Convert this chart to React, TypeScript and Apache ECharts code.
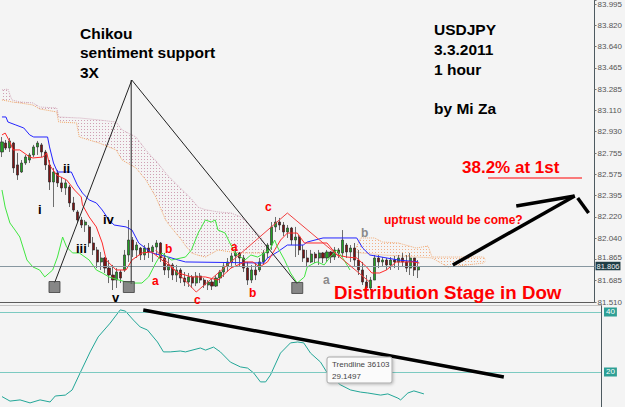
import React, { useEffect, useRef } from "react";
import * as echarts from "echarts";

// ---------- data (bar slots are 1 hour each; prices in JPY per USD) ----------
const SLOT_COUNT = 150;
const PRICE_MIN = 81.51;
const PRICE_MAX = 84.028;
const TICK_STEP = 0.1775;
const TICK_LABELS = [
  "81.510", "81.685", "81.865", "82.040", "82.220", "82.395", "82.575", "82.755",
  "82.930", "83.110", "83.285", "83.465", "83.640", "83.820", "83.995",
];
const LAST_PRICE = 81.806;

// [open, close, low, high]
const CANDLES: number[][] = [
  [82.761, 82.845, 82.719, 82.886], [82.836, 82.794, 82.778, 82.861], [82.794, 82.853, 82.761, 82.878],
  [82.836, 82.628, 82.586, 82.845], [82.653, 82.569, 82.528, 82.753], [82.594, 82.669, 82.586, 82.694],
  [82.669, 82.719, 82.653, 82.736], [82.694, 82.736, 82.669, 82.753], [82.736, 82.803, 82.719, 82.82],
  [82.803, 82.836, 82.736, 82.853], [82.82, 82.761, 82.719, 82.836], [82.761, 82.653, 82.611, 82.778],
  [82.653, 82.511, 82.444, 82.694], [82.511, 82.594, 82.302, 82.628], [82.586, 82.503, 82.469, 82.611],
  [82.503, 82.461, 82.427, 82.553], [82.461, 82.503, 82.403, 82.528], [82.469, 82.336, 82.302, 82.486],
  [82.336, 82.277, 82.261, 82.386], [82.261, 82.194, 82.169, 82.277], [82.194, 82.152, 82.127, 82.219],
  [82.152, 82.177, 82.094, 82.194], [82.136, 82.002, 81.969, 82.152], [82.002, 81.944, 81.902, 82.052],
  [81.944, 81.844, 81.793, 81.969], [81.844, 81.877, 81.777, 81.927], [81.877, 81.793, 81.752, 81.885],
  [81.793, 81.735, 81.668, 81.86], [81.735, 81.693, 81.61, 81.819], [81.693, 81.76, 81.627, 81.793],
  [81.76, 81.71, 81.668, 81.777], [81.777, 81.902, 81.76, 81.944], [81.902, 82.027, 81.844, 82.194],
  [82.027, 81.944, 81.885, 82.052], [81.944, 81.985, 81.877, 82.01], [81.96, 81.902, 81.86, 81.969],
  [81.902, 81.96, 81.86, 81.985], [81.96, 81.927, 81.877, 82.002], [81.927, 81.969, 81.844, 81.985],
  [81.969, 82.002, 81.902, 82.027], [82.002, 81.877, 81.844, 82.01], [81.877, 81.777, 81.735, 81.919],
  [81.777, 81.819, 81.71, 81.877], [81.819, 81.735, 81.693, 81.835], [81.735, 81.777, 81.677, 81.819],
  [81.777, 81.71, 81.668, 81.793], [81.71, 81.677, 81.643, 81.76], [81.677, 81.719, 81.635, 81.752],
  [81.719, 81.668, 81.627, 81.735], [81.668, 81.727, 81.643, 81.76], [81.727, 81.693, 81.668, 81.752],
  [81.693, 81.652, 81.627, 81.71], [81.652, 81.677, 81.61, 81.693], [81.677, 81.643, 81.61, 81.702],
  [81.643, 81.71, 81.635, 81.735], [81.71, 81.76, 81.668, 81.777], [81.76, 81.81, 81.719, 81.835],
  [81.81, 81.844, 81.76, 81.877], [81.844, 81.894, 81.793, 81.919], [81.894, 81.919, 81.819, 81.944],
  [81.919, 81.877, 81.802, 81.927], [81.877, 81.793, 81.76, 81.902], [81.793, 81.693, 81.652, 81.844],
  [81.693, 81.777, 81.668, 81.819], [81.777, 81.735, 81.693, 81.835], [81.777, 81.844, 81.76, 81.877],
  [81.844, 81.919, 81.819, 81.944], [81.919, 81.985, 81.877, 82.002], [81.985, 82.136, 81.944, 82.177],
  [82.136, 82.177, 82.094, 82.219], [82.177, 82.152, 82.11, 82.211], [82.152, 82.094, 82.06, 82.177],
  [82.094, 82.127, 82.044, 82.152], [82.127, 82.027, 81.985, 82.136], [82.027, 82.052, 81.885, 82.136],
  [82.052, 81.944, 81.902, 82.069], [81.944, 81.877, 81.844, 81.985], [81.877, 81.844, 81.802, 81.944],
  [81.844, 81.91, 81.835, 81.944], [81.91, 81.877, 81.835, 81.927], [81.877, 81.919, 81.819, 81.944],
  [81.919, 81.877, 81.835, 81.927], [81.877, 81.927, 81.844, 81.944], [81.927, 81.885, 81.835, 81.935],
  [81.885, 81.944, 81.86, 81.969], [81.944, 81.919, 81.877, 81.96], [81.919, 82.027, 81.885, 82.11],
  [81.985, 81.927, 81.877, 82.002], [81.927, 81.96, 81.844, 81.985], [81.96, 81.86, 81.802, 82.002],
  [81.86, 81.777, 81.735, 81.944], [81.777, 81.677, 81.652, 81.844], [81.677, 81.627, 81.593, 81.735],
  [81.627, 81.693, 81.61, 81.719], [81.693, 81.877, 81.693, 81.902], [81.877, 81.844, 81.793, 81.902],
  [81.844, 81.86, 81.802, 81.885], [81.86, 81.819, 81.777, 81.877], [81.819, 81.86, 81.777, 81.885],
  [81.86, 81.844, 81.793, 81.894], [81.844, 81.877, 81.777, 81.902], [81.877, 81.844, 81.81, 81.919],
  [81.844, 81.793, 81.76, 81.902], [81.793, 81.877, 81.735, 81.919], [81.877, 81.777, 81.727, 81.877],
  [81.777, 81.806, 81.71, 81.86],
];

// Ichimoku lines: [bar slot, price]
const KIJUN: number[][] = [
  [0, 83.053], [1, 83.053], [1.5, 83.011], [3.5, 82.986], [5.5, 82.961], [7, 82.903], [8, 82.886],
  [11.5, 82.886], [12, 82.803], [13, 82.669], [14, 82.594], [17.5, 82.594], [19, 82.486], [20.3, 82.419],
  [22, 82.361], [23.8, 82.336], [25.3, 82.277], [27, 82.194], [28.3, 82.152], [31.3, 82.136], [32.8, 82.11],
  [34.5, 82.002], [37.8, 81.919], [42, 81.885], [44.5, 81.86], [46.3, 81.844], [66, 81.835], [67, 81.877],
  [69.5, 81.927], [72, 81.985], [76, 81.985], [77, 82.01], [81, 82.044], [89.5, 82.044], [91, 81.96],
  [92.8, 81.902], [100, 81.86], [105, 81.844],
];
const TENKAN: number[][] = [
  [0, 82.903], [0.8, 82.919], [2, 82.845], [2.8, 82.778], [4.5, 82.778], [7, 82.719], [7.8, 82.711],
  [10.3, 82.719], [11.3, 82.753], [12, 82.653], [13.8, 82.569], [16.3, 82.528], [18.3, 82.444],
  [20, 82.386], [20.3, 82.32], [22, 82.219], [23.8, 82.136], [25.3, 82.002], [26.3, 81.86], [28.8, 81.777],
  [31.3, 81.777], [32.8, 81.86], [35.3, 81.919], [37.8, 81.927], [41.3, 81.835], [44.5, 81.752],
  [47.8, 81.719], [51.3, 81.719], [54.5, 81.693], [57.8, 81.794], [61.3, 81.844], [63.3, 81.844],
  [65, 81.802], [67, 81.844], [68.8, 81.944], [70.3, 82.027], [72, 82.085], [74.5, 82.085], [76.3, 82.002],
  [82, 82.002], [84.5, 81.902], [87, 81.885], [89.5, 81.877], [92, 81.802], [93.3, 81.752], [95.3, 81.752],
  [97, 81.777], [99.5, 81.844], [103.8, 81.844], [105.3, 81.835],
];
const CHIKOU: number[][] = [
  [0, 82.444], [0.8, 82.302], [2, 82.169], [3.3, 82.11], [4.5, 82.052], [6.3, 81.86], [7.8, 81.802],
  [9.5, 81.777], [10.8, 81.719], [12.8, 81.777], [14, 81.885], [15.3, 82.052], [16.3, 81.969],
  [17.8, 81.919], [19.5, 81.919], [22, 81.86], [23.8, 81.777], [25.3, 81.752], [27, 81.719], [29.5, 81.693],
  [31.3, 81.677], [32.8, 81.668], [35.3, 81.668], [37, 81.719], [38.8, 81.835], [40.3, 81.919],
  [42.8, 81.86], [46.3, 81.885], [47.8, 81.944], [49.5, 82.085], [51.3, 82.194], [52.8, 82.177],
  [53.8, 82.194], [54.5, 82.11], [56.3, 82.085], [57.5, 82.002], [58.8, 81.919], [61.3, 81.86],
  [62.8, 81.902], [64.5, 81.885], [66.3, 81.919], [67.5, 81.944], [68.8, 82.027], [69.5, 81.969],
  [71.3, 81.86], [72.8, 81.752], [74.5, 81.668], [76.3, 81.719], [77, 81.802], [78.8, 81.835],
  [79.5, 81.844], [81.3, 81.819], [82.8, 81.885], [84.5, 81.944], [86.3, 81.86], [87.8, 81.777],
];

// Kumo (cloud) edges
const CLOUD1_SLOT = [0, 1.5, 2.5, 4.5, 7.8, 9.5, 13.8, 14.3, 18.8, 19.5, 24.5, 28.8, 30.3, 33.8, 36.3, 37.8, 38.8, 41.3, 42, 45.3, 46.3, 47.8, 49.5, 51.3, 54.5, 57.8, 60.3, 62, 65.3, 67];
const CLOUD1_TOP = [83.278, 83.286, 83.195, 83.178, 83.17, 83.136, 83.128, 83.053, 83.045, 83.045, 83.028, 83.011, 82.945, 82.886, 82.778, 82.72, 82.69, 82.586, 82.56, 82.45, 82.419, 82.37, 82.3, 82.28, 82.261, 82.252, 82.219, 82.17, 82.052, 81.95];
const CLOUD1_BOTTOM = [83.195, 83.186, 83.178, 83.17, 83.153, 83.12, 83.095, 83.011, 83.003, 82.886, 82.836, 82.778, 82.694, 82.628, 82.528, 82.444, 82.386, 82.194, 82.16, 82.027, 81.98, 81.919, 81.9, 81.885, 81.944, 81.927, 81.92, 81.919, 81.919, 81.94];
const CLOUD2_SLOT = [89, 90.5, 94, 96, 100, 104.5, 107.5, 108.5, 112.5, 115, 121.5, 122];
const CLOUD2_TOP = [81.94, 82.044, 82.044, 82.01, 82.002, 81.96, 81.977, 81.885, 81.885, 81.885, 81.885, 81.86];
const CLOUD2_BOTTOM = [81.93, 81.919, 81.91, 81.902, 81.894, 81.885, 81.88, 81.877, 81.802, 81.81, 81.835, 81.85];

// lower indicator panel: [bar slot, value]
const ADX: number[][] = [
  [0, 11.8], [2, 10.3], [4.5, 10.7], [7, 9.7], [9.5, 10.7], [12, 10.0], [13.3, 12.0], [15.8, 12.3],
  [17.5, 14.0], [19.5, 19.7], [22, 26.7], [24, 31.7], [27, 36.3], [29.5, 40.7], [30.8, 40.3], [32.8, 37.3],
  [34.5, 35.0], [36.3, 34.0], [38.8, 30.0], [40.3, 26.7], [42, 26.7], [44.5, 27.0], [45.8, 26.7],
  [49.5, 28.0], [50.8, 27.3], [52.8, 28.3], [54.5, 26.7], [57, 23.3], [59.5, 21.7], [61.3, 21.3],
  [62.8, 19.7], [64.5, 16.7], [65.8, 16.7], [67, 19.0], [69.5, 26.3], [72, 29.7], [73.8, 30.0], [75.3, 29.7],
  [77, 26.3], [79.5, 23.3], [81.5, 19.0], [84.5, 15.7], [87, 14.0], [89.5, 13.3], [91.3, 13.0], [94.5, 12.3],
  [96.3, 12.7], [98.8, 11.3], [99.5, 10.7], [101.3, 13.0], [102.8, 13.7], [105.3, 12.7],
];
const ADX_LEVELS = [40, 20];
const ADX_MIN = 8.333;
const ADX_MAX = 42.333;

// hand-drawn annotations, in [bar slot, price] / [bar slot, value]
const CHIKOU_TRIANGLE = [[13.25, 81.668], [32.75, 83.361], [74.5, 81.66]];
const CHIKOU_DROP = [[32.6, 83.361], [32.6, 81.66]];
const SUPPORT_MARKS = [[13.25, 81.635], [32, 81.635], [74.5, 81.627]];
const WAVE_ABC = [[38.75, 81.944], [49, 81.593], [72, 82.252], [92.75, 81.677]];
const TARGET_LINE = [[113.75, 81.819], [144.5, 82.394]];
const TARGET_HEAD = [[129.75, 82.31], [144.5, 82.394]];
const TARGET_TURN = [[145.25, 82.377], [148, 82.252]];
const ADX_TRENDLINE = [[35.25, 40.67], [125.25, 18.33]];

const CATEGORIES = Array.from({ length: SLOT_COUNT }, (_, i) => String(i));

const FONT = '"Liberation Sans", Arial, sans-serif';

function dots(color: string) {
  const c = document.createElement("canvas");
  c.width = 3;
  c.height = 3;
  const ctx = c.getContext("2d");
  if (ctx) {
    ctx.fillStyle = color;
    ctx.fillRect(0, 0, 1, 1);
  }
  return { image: c, repeat: "repeat" };
}

export default function App() {
  const ref = useRef<HTMLDivElement>(null);
  useEffect(() => {
    if (!ref.current) return;
    const chart = echarts.init(ref.current, null, { renderer: "svg" });

    const plain = { show: false };
    const line = (data: number[][], color: string, extra: any = {}) => ({
      type: "line",
      xAxisIndex: 1,
      yAxisIndex: 0,
      data,
      symbol: "none",
      silent: true,
      lineStyle: { color, width: 1 },
      z: 4,
      ...extra,
    });
    const edge = (slots: number[], vals: number[], color: string) =>
      line(slots.map((s, i) => [s, vals[i]]), color, { z: 2, lineStyle: { color, width: 1, type: "dotted" } });

    const KUMO = [
      { slot: CLOUD1_SLOT, top: CLOUD1_TOP, bottom: CLOUD1_BOTTOM, fill: dots("#cf9fb3") },
      { slot: CLOUD2_SLOT, top: CLOUD2_TOP, bottom: CLOUD2_BOTTOM, fill: dots("#f2b088") },
    ];

    const label = (text: string, x: number, y: number, size: number, color: string) => ({
      type: "text",
      x,
      y,
      z: 100,
      style: { text, fill: color, font: `bold ${size}px ${FONT}`, align: "left", verticalAlign: "middle" },
    });

    // index of the tick label that sits right above the last-price box
    const nearLast = Math.round((LAST_PRICE - PRICE_MIN) / TICK_STEP + 0.5);

    const option: any = {
      animation: false,
      backgroundColor: "#f4f4f4",
      grid: [
        { left: 0, right: 24, top: 0, height: 302 },
        { left: 0, right: 24, top: 305, height: 102 },
      ],
      xAxis: [
        { type: "category", gridIndex: 0, data: CATEGORIES, boundaryGap: true, show: false },
        {
          type: "value", gridIndex: 0, min: -0.5, max: SLOT_COUNT - 0.5, position: "bottom",
          axisLine: { show: true, onZero: false, lineStyle: { color: "#5c5c5c" } },
          axisTick: plain, axisLabel: plain, splitLine: plain,
        },
        {
          type: "value", gridIndex: 1, min: -0.5, max: SLOT_COUNT - 0.5, position: "top",
          axisLine: { show: true, onZero: false, lineStyle: { color: "#c6c6c6" } },
          axisTick: plain, axisLabel: plain, splitLine: plain,
        },
      ],
      yAxis: [
        {
          type: "value", gridIndex: 0, min: PRICE_MIN, max: PRICE_MAX, position: "right",
          axisLine: { show: true, onZero: false, lineStyle: { color: "#4d5a60" } },
          axisTick: plain, axisLabel: plain, splitLine: plain,
        },
        {
          type: "value", gridIndex: 0, min: 0, max: PRICE_MAX - PRICE_MIN, interval: TICK_STEP, position: "right",
          axisLine: { show: false, onZero: false },
          axisTick: { show: true, length: 2, lineStyle: { color: "#777" } },
          axisLabel: {
            fontSize: 8, lineHeight: 7, color: "#555", margin: 3, fontFamily: FONT,
            formatter: (v: number) => {
              const i = Math.round(v / TICK_STEP);
              if (Math.abs(v - i * TICK_STEP) >= 0.005 || !TICK_LABELS[i]) return "";
              return i === nearLast ? `{near|${TICK_LABELS[i]}}` : TICK_LABELS[i];
            },
            rich: {
              near: { fontSize: 8, lineHeight: 7, color: "#555", fontFamily: FONT, padding: [0, 0, 3, 0] },
            },
          },
          splitLine: plain,
        },
        {
          type: "value", gridIndex: 1, min: ADX_MIN, max: ADX_MAX, position: "right",
          axisLine: { show: true, onZero: false, lineStyle: { color: "#4d5a60" } },
          axisTick: plain, axisLabel: plain, splitLine: plain,
        },
      ],
      series: [
        {
          type: "custom",
          xAxisIndex: 1,
          yAxisIndex: 0,
          silent: true,
          z: 1,
          data: KUMO.map((k) => [k.slot[0], k.top[0]]),
          encode: { x: 0, y: 1 },
          renderItem: (params: any, api: any) => {
            const k = KUMO[params.dataIndex];
            const pts: number[][] = [];
            k.slot.forEach((s, i) => pts.push(api.coord([s, k.top[i]])));
            for (let i = k.slot.length - 1; i >= 0; i--) pts.push(api.coord([k.slot[i], k.bottom[i]]));
            return { type: "polygon", shape: { points: pts }, style: { fill: k.fill, stroke: "none" } };
          },
        },
        edge(CLOUD1_SLOT, CLOUD1_TOP, "#d3a9bb"),
        edge(CLOUD1_SLOT, CLOUD1_BOTTOM, "#f2a766"),
        edge(CLOUD2_SLOT, CLOUD2_TOP, "#f2ae7a"),
        edge(CLOUD2_SLOT, CLOUD2_BOTTOM, "#f2ae7a"),
        {
          type: "candlestick",
          xAxisIndex: 0,
          yAxisIndex: 0,
          data: CANDLES,
          barWidth: 2.6,
          silent: true,
          z: 3,
          itemStyle: {
            color: "#22a022",
            color0: "#7c1414",
            borderColor: "#333333",
            borderColor0: "#2a2a2a",
            borderWidth: 0.7,
          },
          markLine: {
            silent: true,
            symbol: "none",
            data: [{ yAxis: LAST_PRICE }],
            lineStyle: { color: "#8797a0", width: 1, type: "solid" },
            label: {
              position: "end",
              distance: 1,
              formatter: LAST_PRICE.toFixed(3),
              fontSize: 7.5,
              lineHeight: 7.5,
              fontFamily: FONT,
              color: "#f2f2f2",
              backgroundColor: "#1f3d46",
              padding: [1, 1, 0, 1],
            },
          },
        },
        line(KIJUN, "#2424ff"),
        line(TENKAN, "#ff2a2a"),
        line(CHIKOU, "#40e640"),
        line(CHIKOU_TRIANGLE, "#222222", { z: 6 }),
        line(CHIKOU_DROP, "#222222", { z: 6 }),
        line(WAVE_ABC, "#f04040", { z: 6 }),
        line(TARGET_LINE, "#000000", { z: 7, lineStyle: { color: "#000", width: 3.5 } }),
        line(TARGET_HEAD, "#000000", { z: 7, lineStyle: { color: "#000", width: 3.5 } }),
        line(TARGET_TURN, "#000000", { z: 7, lineStyle: { color: "#000", width: 3.5 } }),
        {
          type: "scatter",
          xAxisIndex: 1,
          yAxisIndex: 0,
          data: SUPPORT_MARKS,
          symbol: "rect",
          symbolSize: 11,
          silent: true,
          z: 7,
          itemStyle: { color: "#6b6b6b", borderColor: "#3f3f3f", borderWidth: 1 },
        },
        {
          type: "line",
          xAxisIndex: 2,
          yAxisIndex: 2,
          data: ADX,
          symbol: "none",
          silent: true,
          lineStyle: { color: "#22a697", width: 1 },
          z: 4,
          markLine: {
            silent: true,
            symbol: "none",
            data: ADX_LEVELS.map((v) => ({ yAxis: v })),
            lineStyle: { color: "#7ccac1", width: 1, type: "solid" },
            label: {
              position: "end",
              distance: 3,
              formatter: (p: any) => String(p.value),
              fontSize: 8,
              fontFamily: FONT,
              color: "#ffffff",
              backgroundColor: "#2e9f95",
              padding: [1, 2, 0, 2],
            },
          },
        },
        {
          type: "line",
          xAxisIndex: 2,
          yAxisIndex: 2,
          data: ADX_TRENDLINE,
          symbol: "none",
          silent: true,
          lineStyle: { color: "#000", width: 3.5 },
          z: 6,
        },
      ],
      graphic: [
        label("Chikou", 80, 33, 15.5, "#000"),
        label("sentiment support", 80, 52.5, 15.5, "#000"),
        label("3X", 80, 72, 15.5, "#000"),
        label("USDJPY", 434, 29, 15.5, "#000"),
        label("3.3.2011", 434, 49, 15.5, "#000"),
        label("1 hour", 434, 69, 15.5, "#000"),
        label("by Mi Za", 434, 108, 15.5, "#000"),
        label("38.2% at 1st", 462, 167, 17, "#ff0000"),
        {
          type: "line",
          z: 100,
          shape: { x1: 488, y1: 178, x2: 582, y2: 178 },
          style: { stroke: "#ff0000", lineWidth: 1 },
        },
        label("uptrust would be come?", 384, 220, 12, "#ff0000"),
        label("Distribution Stage in Dow", 334, 292, 18.7, "#ff0000"),
        label("ii", 63, 168, 13, "#000"),
        label("i", 38, 209, 13, "#000"),
        label("iv", 103, 219, 13, "#000"),
        label("iii", 76, 248, 13, "#000"),
        label("v", 112, 297, 13, "#000"),
        label("b", 165, 249, 12, "#ff0000"),
        label("a", 152, 281, 12, "#ff0000"),
        label("c", 194, 300, 12, "#ff0000"),
        label("a", 231, 247, 12, "#ff0000"),
        label("b", 249, 293, 12, "#ff0000"),
        label("c", 265, 207, 12, "#ff0000"),
        label("a", 323, 280, 12, "#8a8a8a"),
        label("b", 361, 233, 12, "#8a8a8a"),
        {
          type: "rect",
          z: 100,
          shape: { x: 327, y: 357, width: 65, height: 26, r: 2 },
          style: {
            fill: "#fbfbfb",
            stroke: "#a8a8a8",
            lineWidth: 1,
            shadowBlur: 3,
            shadowColor: "rgba(0,0,0,0.25)",
            shadowOffsetX: 1,
            shadowOffsetY: 1,
          },
        },
        {
          type: "text",
          x: 332,
          y: 364,
          z: 101,
          style: { text: "Trendline 36103", fill: "#444", font: `8px ${FONT}`, verticalAlign: "middle" },
        },
        {
          type: "text",
          x: 332,
          y: 376,
          z: 101,
          style: { text: "29.1497", fill: "#444", font: `8px ${FONT}`, verticalAlign: "middle" },
        },
      ],
    };

    chart.setOption(option);
    return () => chart.dispose();
  }, []);

  return (
    <div
      ref={ref}
      style={{ position: "fixed", left: 0, top: 0, width: 625, height: 407, background: "#f4f4f4" }}
    />
  );
}
